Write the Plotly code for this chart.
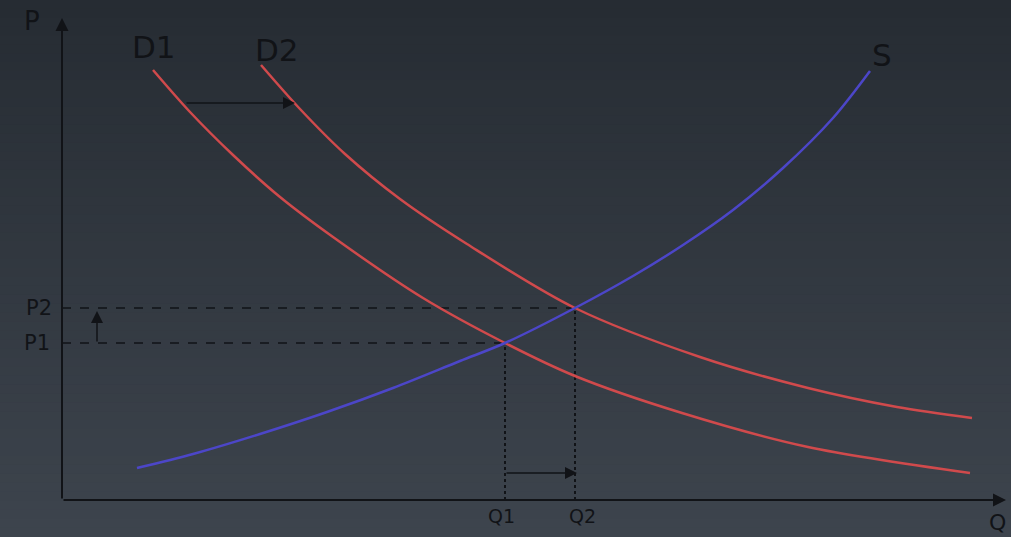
import plotly.graph_objects as go

# ---- data (Q = quantity, P = price) ----
d1_q = [0.91, 1.28, 1.71, 2.18, 2.71, 3.61, 4.43, 5.13, 6.20, 7.46, 9.08]
d1_p = [4.30, 3.88, 3.45, 3.03, 2.63, 2.02, 1.57, 1.24, 0.87, 0.53, 0.27]

d2_q = [1.99, 2.38, 2.83, 3.38, 4.05, 5.13, 6.38, 7.46, 8.35, 9.10]
d2_p = [4.35, 3.91, 3.46, 3.01, 2.56, 1.92, 1.43, 1.12, 0.93, 0.82]

s_q = [0.75, 1.31, 1.98, 2.65, 3.31, 3.98, 4.43, 5.13, 5.71, 6.21, 6.71, 7.21, 7.71, 8.08]
s_p = [0.32, 0.46, 0.66, 0.88, 1.12, 1.39, 1.57, 1.92, 2.24, 2.55, 2.90, 3.32, 3.82, 4.29]

q_eq = [4.43, 5.13]          # Q1, Q2
p_eq = [1.57, 1.92]          # P1, P2
q_labels = ["Q1", "Q2"]
p_labels = ["P1", "P2"]
curve_labels = ["D1", "D2", "S"]

RED = "#d04a4c"
BLUE = "#4c46c8"
INK = "#111317"
FONT = "DejaVu Sans"

fig = go.Figure()

# gradient background
n_bands = 60
top = (38, 44, 51)
bot = (61, 68, 77)
for i in range(n_bands):
    t = i / (n_bands - 1)
    c = tuple(round(top[k] + (bot[k] - top[k]) * t) for k in range(3))
    fig.add_shape(type="rect", xref="paper", yref="paper",
                  x0=0, x1=1, y0=1 - (i + 1) / n_bands, y1=1 - i / n_bands + 0.001,
                  fillcolor="rgb(%d,%d,%d)" % c, line=dict(width=0), layer="below")

# guide lines
fig.add_trace(go.Scatter(x=[0, q_eq[1]], y=[p_eq[1], p_eq[1]], mode="lines",
                         line=dict(color=INK, width=1.5, dash="dash"), hoverinfo="skip"))
fig.add_trace(go.Scatter(x=[0, q_eq[0]], y=[p_eq[0], p_eq[0]], mode="lines",
                         line=dict(color=INK, width=1.5, dash="dash"), hoverinfo="skip"))
for qv, pv in zip(q_eq, p_eq):
    fig.add_trace(go.Scatter(x=[qv, qv], y=[0, pv], mode="lines",
                             line=dict(color=INK, width=2, dash="dot"), hoverinfo="skip"))

# curves
fig.add_trace(go.Scatter(x=d1_q, y=d1_p, mode="lines", name="D1",
                         line=dict(color=RED, width=2.5, shape="spline", smoothing=0.9)))
fig.add_trace(go.Scatter(x=d2_q, y=d2_p, mode="lines", name="D2",
                         line=dict(color=RED, width=2.5, shape="spline", smoothing=0.9)))
fig.add_trace(go.Scatter(x=s_q, y=s_p, mode="lines", name="S",
                         line=dict(color=BLUE, width=2.5, shape="spline", smoothing=0.9)))

def arrow(x0, y0, x1, y1, width=1.5, size=1.4):
    fig.add_annotation(x=x1, y=y1, ax=x0, ay=y0, xref="x", yref="y",
                       axref="x", ayref="y", text="", showarrow=True,
                       arrowhead=2, arrowsize=size, arrowwidth=width,
                       arrowcolor=INK, standoff=0, startstandoff=0)

# axes with arrows
arrow(0, 0, 0, 4.82, width=2, size=1.3)
arrow(0, 0, 9.44, 0, width=2, size=1.3)

# shift arrows
arrow(1.23, 3.97, 2.33, 3.97, size=1.6)
arrow(0.35, 1.57, 0.35, 1.89, size=1.6)
arrow(q_eq[0], 0.27, q_eq[1] + 0.02, 0.27, size=1.6)

def label(x, y, text, size):
    fig.add_annotation(x=x, y=y, xref="x", yref="y", text=text, showarrow=False,
                       font=dict(family=FONT, size=size, color=INK))

label(-0.30, 4.79, "P", 26)
label(9.35, -0.22, "Q", 22)
label(0.92, 4.53, curve_labels[0], 31)
label(2.15, 4.50, curve_labels[1], 31)
label(8.20, 4.45, curve_labels[2], 31)
label(-0.23, p_eq[1], p_labels[1], 21)
label(-0.25, p_eq[0], p_labels[0], 21)
label(q_eq[0] - 0.04, -0.16, q_labels[0], 19)
label(q_eq[1] + 0.07, -0.16, q_labels[1], 19)

fig.update_layout(
    width=1011, height=537,
    margin=dict(l=0, r=0, t=0, b=0),
    paper_bgcolor="#2f353d", plot_bgcolor="rgba(0,0,0,0)",
    showlegend=False,
    xaxis=dict(range=[-0.62, 9.49], visible=False, fixedrange=True),
    yaxis=dict(range=[-0.37, 5.00], visible=False, fixedrange=True),
)

fig.write_html("out.html", config={"displayModeBar": False},
               post_script="document.body.style.margin='0';")
